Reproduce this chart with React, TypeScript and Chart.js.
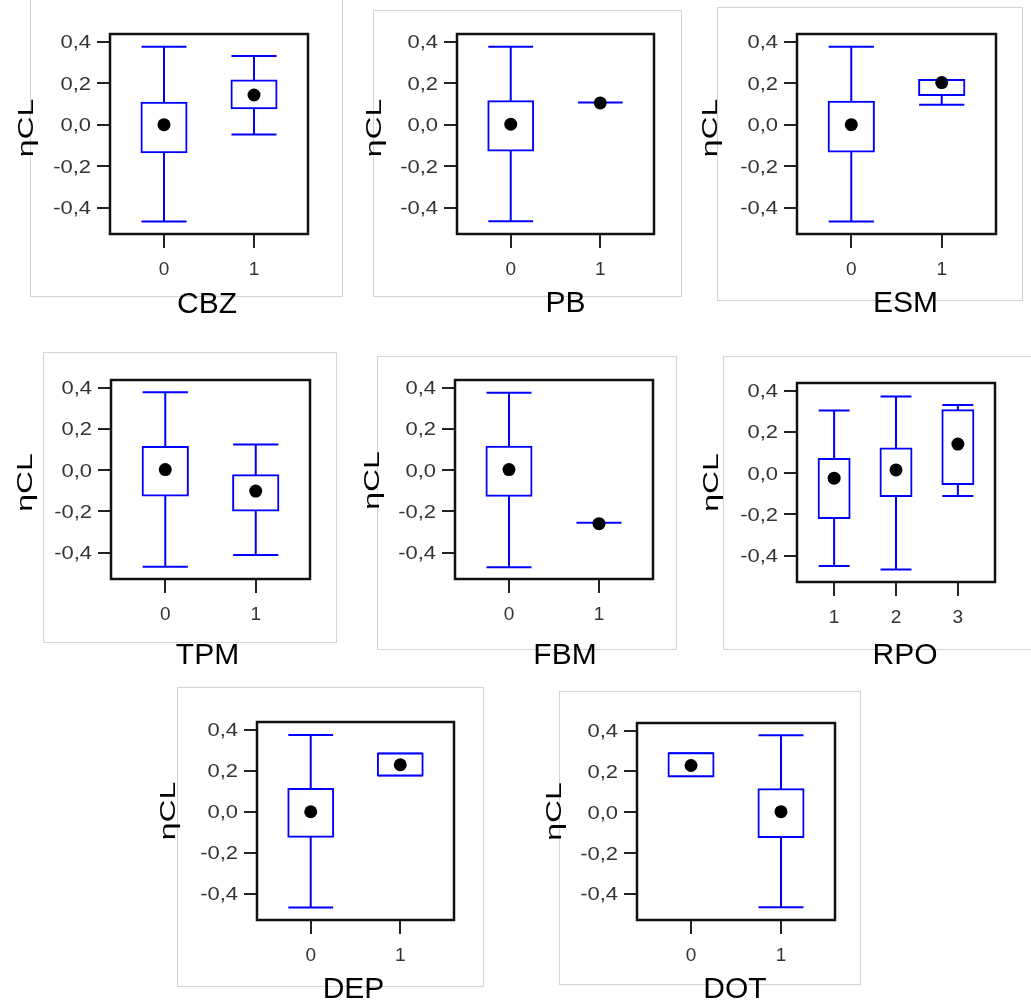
import React, { useEffect, useRef } from "react";
import { Chart, registerables } from "chart.js";

Chart.register(...registerables);

const FONT = '"Liberation Sans", Arial, Helvetica, sans-serif';
const BLUE = "#0000ff";

// Shared value axis
const Y_MIN = -0.527;
const Y_MAX = 0.437;
const yTickValues = [-0.4, -0.2, 0, 0.2, 0.4];
const yTitle = "ηCL";

// CBZ
const cbzGroups = ["0", "1"];
const cbzMin = [-0.467, -0.048];
const cbzQ1 = [-0.133, 0.079];
const cbzMedian = [0.0, 0.143];
const cbzQ3 = [0.106, 0.213];
const cbzMax = [0.376, 0.331];

// PB
const pbGroups = ["0", "1"];
const pbMin = [-0.465, 0.107];
const pbQ1 = [-0.125, 0.107];
const pbMedian = [0.002, 0.105];
const pbQ3 = [0.113, 0.107];
const pbMax = [0.376, 0.107];

// ESM
const esmGroups = ["0", "1"];
const esmMin = [-0.467, 0.096];
const esmQ1 = [-0.129, 0.143];
const esmMedian = [0.0, 0.203];
const esmQ3 = [0.11, 0.215];
const esmMax = [0.376, 0.215];

// TPM
const tpmGroups = ["0", "1"];
const tpmMin = [-0.468, -0.411];
const tpmQ1 = [-0.123, -0.195];
const tpmMedian = [0.003, -0.101];
const tpmQ3 = [0.113, -0.024];
const tpmMax = [0.378, 0.124];

// FBM
const fbmGroups = ["0", "1"];
const fbmMin = [-0.47, -0.255];
const fbmQ1 = [-0.124, -0.255];
const fbmMedian = [0.003, -0.259];
const fbmQ3 = [0.114, -0.255];
const fbmMax = [0.375, -0.255];

// RPO
const rpoGroups = ["1", "2", "3"];
const rpoMin = [-0.45, -0.466, -0.111];
const rpoQ1 = [-0.217, -0.11, -0.052];
const rpoMedian = [-0.024, 0.016, 0.141];
const rpoQ3 = [0.069, 0.12, 0.305];
const rpoMax = [0.304, 0.371, 0.331];

// DEP
const depGroups = ["0", "1"];
const depMin = [-0.466, 0.177];
const depQ1 = [-0.122, 0.177];
const depMedian = [0.0, 0.229];
const depQ3 = [0.111, 0.284];
const depMax = [0.374, 0.284];

// DOT
const dotGroups = ["0", "1"];
const dotMin = [0.177, -0.465];
const dotQ1 = [0.177, -0.121];
const dotMedian = [0.229, 0.003];
const dotQ3 = [0.289, 0.113];
const dotMax = [0.289, 0.377];

type Rect = { left: number; top: number; width: number; height: number };

type Panel = {
  title: string;
  groups: string[];
  min: number[];
  q1: number[];
  median: number[];
  q3: number[];
  max: number[];
  frame: Rect; // plot area on the page
  card: Rect; // light outline around the panel
  xdx: number;
  xdy: number;
  ydx: number;
  ydy: number;
};

const panels: Panel[] = [
  {
    title: "CBZ", groups: cbzGroups, min: cbzMin, q1: cbzQ1, median: cbzMedian, q3: cbzQ3, max: cbzMax,
    frame: { left: 110, top: 34, width: 198, height: 200 },
    card: { left: 30, top: -2, width: 313, height: 299 },
    xdx: -2, xdy: 68, ydx: -77, ydy: -6,
  },
  {
    title: "PB", groups: pbGroups, min: pbMin, q1: pbQ1, median: pbMedian, q3: pbQ3, max: pbMax,
    frame: { left: 457, top: 34, width: 197, height: 200 },
    card: { left: 373, top: 10, width: 309, height: 287 },
    xdx: 10, xdy: 67, ydx: -76, ydy: -6,
  },
  {
    title: "ESM", groups: esmGroups, min: esmMin, q1: esmQ1, median: esmMedian, q3: esmQ3, max: esmMax,
    frame: { left: 797, top: 34, width: 199, height: 200 },
    card: { left: 717, top: 7, width: 306, height: 294 },
    xdx: 9, xdy: 67, ydx: -80, ydy: -6,
  },
  {
    title: "TPM", groups: tpmGroups, min: tpmMin, q1: tpmQ1, median: tpmMedian, q3: tpmQ3, max: tpmMax,
    frame: { left: 111, top: 380, width: 199, height: 199 },
    card: { left: 43, top: 352, width: 294, height: 291 },
    xdx: -3, xdy: 74, ydx: -79, ydy: 3,
  },
  {
    title: "FBM", groups: fbmGroups, min: fbmMin, q1: fbmQ1, median: fbmMedian, q3: fbmQ3, max: fbmMax,
    frame: { left: 455, top: 380, width: 198, height: 199 },
    card: { left: 377, top: 356, width: 300, height: 294 },
    xdx: 11, xdy: 74, ydx: -76, ydy: 1,
  },
  {
    title: "RPO", groups: rpoGroups, min: rpoMin, q1: rpoQ1, median: rpoMedian, q3: rpoQ3, max: rpoMax,
    frame: { left: 797, top: 383, width: 198, height: 199 },
    card: { left: 723, top: 356, width: 330, height: 294 },
    xdx: 9, xdy: 71, ydx: -79, ydy: 0,
  },
  {
    title: "DEP", groups: depGroups, min: depMin, q1: depQ1, median: depMedian, q3: depQ3, max: depMax,
    frame: { left: 257, top: 722, width: 197, height: 198 },
    card: { left: 177, top: 687, width: 307, height: 300 },
    xdx: -2, xdy: 67, ydx: -82, ydy: -10,
  },
  {
    title: "DOT", groups: dotGroups, min: dotMin, q1: dotQ1, median: dotMedian, q3: dotQ3, max: dotMax,
    frame: { left: 637, top: 723, width: 198, height: 197 },
    card: { left: 559, top: 691, width: 302, height: 294 },
    xdx: -1, xdy: 67, ydx: -76, ydy: -10,
  },
];

// Space around the plot area inside each canvas
const PAD_LEFT = 110;
const PAD_TOP = 45;
const PAD_RIGHT = 20;
const PAD_BOTTOM = 95;
const CAP_HALF = 0.25;

const fmtTick = (v: number) => {
  const s = Math.abs(v).toFixed(1).replace(".", ",");
  return v < -1e-9 ? "-" + s : s;
};

// Frame, stretched value labels and both axis titles
const panelDecor = {
  id: "panelDecor",
  afterDraw(chart: any, _args: any, opts: any) {
    const { ctx, chartArea: a } = chart;
    const ys = chart.scales.y;
    ctx.save();

    ctx.strokeStyle = "#111";
    ctx.lineWidth = 2.5;
    ctx.strokeRect(a.left, a.top, a.right - a.left, a.bottom - a.top);

    ctx.font = `18px ${FONT}`;
    ctx.fillStyle = "#333";
    ctx.textAlign = "right";
    ctx.textBaseline = "alphabetic";
    ys.ticks.forEach((t: any, i: number) => {
      const y = ys.getPixelForTick(i);
      ctx.save();
      ctx.translate(a.left - 19, y + 6.4);
      ctx.scale(1.22, 1);
      ctx.fillText(fmtTick(t.value), 0, 0);
      ctx.restore();
    });

    ctx.fillStyle = "#000";
    ctx.textAlign = "center";
    ctx.font = `22px ${FONT}`;
    ctx.save();
    ctx.translate(a.left + opts.ydx, (a.top + a.bottom) / 2 + opts.ydy);
    ctx.rotate(-Math.PI / 2);
    ctx.scale(1.45, 1);
    ctx.fillText(yTitle, 0, 0);
    ctx.restore();

    ctx.font = `30px ${FONT}`;
    ctx.fillText(opts.title, (a.left + a.right) / 2 + opts.xdx, a.bottom + opts.xdy + 10.7);

    ctx.restore();
  },
};

function whiskerPoints(p: Panel) {
  const pts: { x: number; y: number | null }[] = [];
  p.groups.forEach((_, i) => {
    pts.push({ x: i - CAP_HALF, y: p.max[i] }, { x: i + CAP_HALF, y: p.max[i] }, { x: i, y: null });
    pts.push({ x: i, y: p.q3[i] }, { x: i, y: p.max[i] }, { x: i, y: null });
    pts.push({ x: i, y: p.min[i] }, { x: i, y: p.q1[i] }, { x: i, y: null });
    pts.push({ x: i - CAP_HALF, y: p.min[i] }, { x: i + CAP_HALF, y: p.min[i] }, { x: i, y: null });
  });
  return pts;
}

function BoxPanel({ panel }: { panel: Panel }) {
  const ref = useRef<HTMLCanvasElement>(null);
  const w = panel.frame.width + PAD_LEFT + PAD_RIGHT;
  const h = panel.frame.height + PAD_TOP + PAD_BOTTOM;

  useEffect(() => {
    const groups = panel.groups;
    const chart = new Chart(ref.current as HTMLCanvasElement, {
      type: "bar",
      data: {
        datasets: [
          {
            type: "line",
            data: whiskerPoints(panel) as any,
            borderColor: BLUE,
            borderWidth: 2,
            pointRadius: 0,
            spanGaps: false,
            tension: 0,
            order: 2,
          } as any,
          {
            type: "bar",
            data: groups.map((_, i) => ({ x: i, y: [panel.q1[i], panel.q3[i]] })) as any,
            backgroundColor: "#ffffff",
            borderColor: BLUE,
            borderWidth: 2,
            borderSkipped: false,
            inflateAmount: 1,
            barPercentage: 0.5,
            categoryPercentage: 1,
            order: 1,
          } as any,
          {
            type: "line",
            data: groups.map((_, i) => ({ x: i, y: panel.median[i] })) as any,
            showLine: false,
            pointRadius: 6.5,
            pointBackgroundColor: "#000",
            pointBorderColor: "#000",
            pointBorderWidth: 0,
            order: 0,
          } as any,
        ],
      },
      options: {
        animation: false,
        responsive: false,
        devicePixelRatio: 1,
        events: [],
        layout: { padding: { left: 0, top: PAD_TOP, right: PAD_RIGHT, bottom: 0 } },
        plugins: {
          legend: { display: false },
          tooltip: { enabled: false },
          panelDecor: {
            title: panel.title,
            xdx: panel.xdx,
            xdy: panel.xdy,
            ydx: panel.ydx,
            ydy: panel.ydy,
          },
        } as any,
        scales: {
          x: {
            type: "linear",
            bounds: "data",
            offset: false,
            min: -0.6,
            max: groups.length - 0.4,
            afterBuildTicks: (s: any) => {
              s.ticks = groups.map((_, i) => ({ value: i }));
            },
            afterFit: (s: any) => {
              s.height = PAD_BOTTOM;
            },
            ticks: {
              callback: (v: any) => groups[Math.round(Number(v))] ?? "",
              font: { size: 19, family: FONT, weight: "normal" },
              color: "#333",
              padding: 10,
              maxRotation: 0,
              autoSkip: false,
            },
            grid: {
              display: true,
              offset: false,
              drawOnChartArea: false,
              drawTicks: true,
              tickLength: 14,
              color: "#222",
              lineWidth: 2,
            },
            border: { display: false },
          },
          y: {
            type: "linear",
            bounds: "data",
            min: Y_MIN,
            max: Y_MAX,
            afterBuildTicks: (s: any) => {
              s.ticks = yTickValues.map((v) => ({ value: v }));
            },
            afterFit: (s: any) => {
              s.width = PAD_LEFT;
            },
            ticks: { display: false },
            grid: {
              display: true,
              drawOnChartArea: false,
              drawTicks: true,
              tickLength: 13,
              color: "#222",
              lineWidth: 2,
            },
            border: { display: false },
          },
        },
      } as any,
      plugins: [panelDecor as any],
    });
    return () => chart.destroy();
  }, [panel]);

  return (
    <canvas
      ref={ref}
      width={w}
      height={h}
      style={{
        position: "absolute",
        left: panel.frame.left - PAD_LEFT,
        top: panel.frame.top - PAD_TOP,
        width: w,
        height: h,
      }}
    />
  );
}

export default function App() {
  return (
    <div
      style={{
        position: "absolute",
        left: 0,
        top: 0,
        width: 1031,
        height: 1002,
        overflow: "hidden",
        background: "#fff",
      }}
    >
      {panels.map((p) => (
        <div
          key={"card-" + p.title}
          style={{
            position: "absolute",
            left: p.card.left,
            top: p.card.top,
            width: p.card.width,
            height: p.card.height,
            border: "1px solid #d4d4d4",
            boxSizing: "border-box",
          }}
        />
      ))}
      {panels.map((p) => (
        <BoxPanel key={p.title} panel={p} />
      ))}
    </div>
  );
}
